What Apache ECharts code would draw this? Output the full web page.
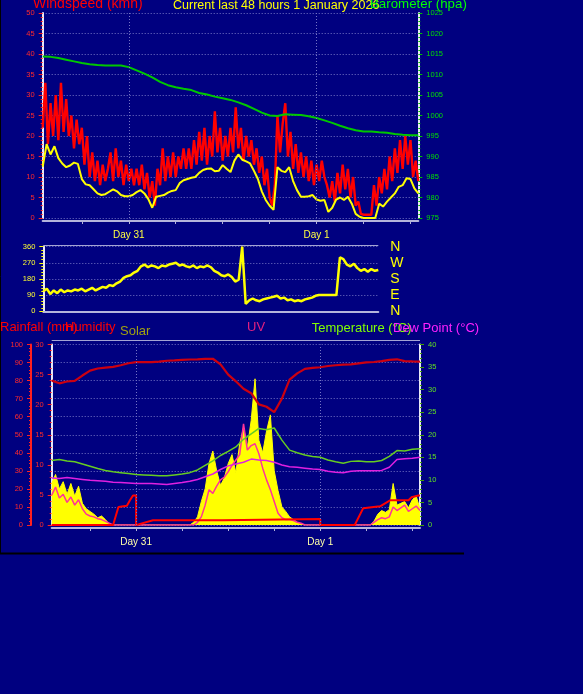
<!DOCTYPE html>
<html><head><meta charset="utf-8">
<script src="https://cdn.jsdelivr.net/npm/echarts@6.0.0/dist/echarts.min.js"></script>
<style>html,body{margin:0;padding:0;background:#000080;}#c{width:583px;height:694px;}</style>
</head><body><div id="c"></div>
<script>
// ---------- time base (hours relative to midnight, 31 Dec) ----------
const START_HOUR = -11;
const END_HOUR = 37;
const dayHours = [0, 24];
const dayLabels = ['Day 31', 'Day 1'];
const tickHours = [-6, 0, 6, 12, 18, 24, 30, 36];
const hours20 = Array.from({length: 145}, (_, i) => START_HOUR + i / 3);
const hours30 = Array.from({length: 97}, (_, i) => START_HOUR + i * 0.5);
const hours60 = Array.from({length: 49}, (_, i) => START_HOUR + i);

// ---------- wind (km/h) ----------
const windGust = [22,33,18,28,20,30,19,33,21,29,20,
  25,17,24,18,22, 13,20,10,16,9, 14,8,13,9,12, 16,9,17,10,14,
  8,13,9,12,8, 12,8,13,7,11, 5,9,3,12,8, 17,9,15,10,16,
  10,15,12,17,12, 17,12,19,13,21, 14,22,13,20,15, 26,16,22,14,20,
  15,22,16,27,17, 22,14,20,15,19, 13,17,11,15,8, 12,5,3,8,25,
  16,23,28,15,21, 12,18,11,16,10, 15,9,14,8,13, 9,14,10,8,5,
  9,4,11,6,13, 7,12,5,10,3, 4,1,0.8,0.8,0.8, 0.8,8,3,10,6,
  12,7,15,9,17, 11,19,12,20,13, 19,10,14,9];
const windAvg = [12.5,18,15.5,17.5,14.6,13.3,12.4,12.8,13.5,13.2,
  9.5,8.2,8,7,6,5.6,5.8,6.4,7,6.5,
  5.6,5.3,5.3,5.6,6.3,6.8,6,4.6,2.5,5.2,
  5.4,5.6,6.2,6.6,6.8,8.5,9.2,9.5,9.8,10,
  11,11.7,12,12.1,11.4,11.5,12.9,12,11.2,14,
  15.5,14.2,13.8,13.3,11.5,9.5,6.5,4.4,3,2,
  12.4,11.5,11.2,12.4,9,6.8,5.2,5.2,5.3,5.6,
  4.5,4.2,4.4,1.5,2.5,4.5,5,4.4,5.2,3.5,
  1,0.3,0,0,0,0,3.5,2.8,4,5,
  6,7.6,8,9.7,9.5,7.2,6];
// ---------- barometer (hPa), hourly ----------
const baro = [1014.4,1014.3,1014.0,1013.6,1013.2,1012.8,1012.5,1012.3,1012.2,1012.2,1012.2,
  1011.8,1011.0,1010.2,1009.3,1008.2,1007.4,1006.9,1006.5,1006.2,1005.5,1005.1,1004.6,
  1004.2,1003.8,1003.2,1002.5,1001.6,1000.7,1000.0,999.9,1000.3,1000.2,1000.1,999.8,
  999.4,998.8,998.2,997.5,996.9,996.4,996.1,996.1,995.9,995.8,995.5,995.3,995.2,995.2];
// ---------- wind direction (deg), half-hourly ----------
const windDir = [110,125,95,115,100,120,105,115,110,120,
  115,125,110,120,130,115,125,135,130,145,
  140,155,165,185,195,200,215,225,250,260,
  245,255,250,240,255,250,260,265,270,255,
  260,250,245,255,240,250,245,255,245,225,
  215,200,195,205,190,165,175,360,40,60,
  70,60,55,65,70,75,80,85,70,75,
  60,65,55,60,55,65,70,75,85,90,
  90,90,90,90,90,300,290,260,250,265,
  240,225,235,220,235,225,230];
const compass = ['N', 'E', 'S', 'W', 'N'];
// ---------- humidity (%), temperature & dew point (°C), hourly ----------
const humidity = [80,78.5,79.5,79.8,82.8,85.5,86.7,87.2,87.6,88.5,89.6,
  90.2,90.3,90.2,90.5,91,91.2,91.5,91.7,91.8,92,92.1,89,83.3,79.6,75.5,73,66.8,65.5,62.5,70,80.5,84,86.5,87,
  87.4,88.1,88.5,88.8,89,89.5,90.1,90.3,90.8,91.5,91.8,90.8,90.6,90.5];
const temperature = [14.3,14.5,14.2,14,13.5,13,12.5,12.1,11.8,11.6,11.4,
  11.2,11.1,11,10.9,10.9,11.1,11.3,11.6,12.2,13.2,14.2,15.4,16.3,17.3,19,20.2,21.4,21.1,21.5,18.8,16.6,16,15.5,15.2,
  15,14.4,14,13.7,14.1,14.2,14,14,14.3,15.2,16.5,16.4,16.8,16.9];
const dewPoint = [10.4,10.3,10.5,10.3,10.1,9.9,9.8,9.7,9.5,9.4,9.3,
  9.2,9.2,9.2,9.1,9,9.2,9.4,9.7,10.1,10.7,11.3,12.3,13.1,13.5,13.9,14.6,14.4,14.3,13.9,13.3,12.9,12.8,12.6,12.4,
  12.3,11.9,11.7,11.6,11.9,12,12,12,12.1,12.8,14.5,14.7,14.8,15];
// ---------- solar (W/m²) and UV index, half-hourly ----------
const solar = [230,280,200,240,170,230,160,215,120,90,75,60,40,50,30,5,
  0,0,0,0,0,0,0,0,0,0,0,0,0,0,0,0,0,0,0,0,0,
  15,45,130,200,340,410,300,220,260,340,390,290,450,540,430,580,810,470,400,520,610,300,190,100,75,45,30,15,5,
  0,0,0,0,0,0,0,0,0,0,0,0,0,0,0,0,0,0,
  20,60,80,70,85,230,110,120,130,95,140,160,90];
const uv = [3.3,4.2,3.0,3.4,2.5,3.1,2.2,2.8,1.8,1.2,1.0,0.9,0.7,0.6,0.4,0.2,
  0,0,0,0,0,0,0,0,0,0,0,0,0,0,0,0,0,0,0,0,0,0,
  0.3,0.9,2.2,3.9,3.5,4.3,5,5.3,5.9,6.6,7.2,7.8,11.2,8.3,8.8,9,7.9,6.3,5,3.9,2.6,1.3,0.8,0.6,0.6,0.5,0.3,0.2,
  0,0,0,0,0,0,0,0,0,0,0,0,0,0,0,0,0,0,
  0.3,0.6,0.8,0.7,0.9,2.0,1.6,1.9,2.2,1.5,1.8,2.1,1.6];
// ---------- rainfall (mm), daily accumulation ----------
const rainHours = [-11,-3,-2.3,-1.2,-0.8,-0.4,0,0,0.3,2.2,11.3,11.3,24,24,28.5,29.6,31.8,33.1,35.5,35.9,36.8,37];
const rainVals  = [0,0,3.0,3.2,4.1,4.9,4.9,0,0.1,0.8,0.8,1.0,1.0,0,0,2.8,3.1,4.1,4.1,4.6,4.9,4.9];

// ---------- chart ----------
const F = '"Liberation Sans", Arial, sans-serif';
const GRIDC = '#7676c6';
const dotted = {color: GRIDC, type: [1, 2], width: 1};
const AXISC = '#b4b4dc';
const pairs = (t, v) => v.map((y, i) => [t[i], y]);
const vgrid = {silent: true, symbol: ['none', 'none'], label: {show: false},
  lineStyle: dotted, data: dayHours.map(h => ({xAxis: h}))};

function timeAxis(gi, showLabels, labelColor, offset) {
  return {type: 'value', gridIndex: gi, min: START_HOUR, max: END_HOUR, offset: offset,
    axisLine: {show: true, onZero: false, lineStyle: {color: AXISC, width: 2}},
    axisTick: {show: showLabels, customValues: tickHours, length: 3, lineStyle: {color: AXISC}},
    axisLabel: {show: showLabels, customValues: dayHours, color: labelColor, fontSize: 10, fontFamily: F, margin: 9,
      formatter: v => dayLabels[dayHours.indexOf(v)]},
    splitLine: {show: false}};
}
function valAxis(gi, min, max, interval, pos, tickColor, labelColor, opts) {
  return Object.assign({type: 'value', gridIndex: gi, min: min, max: max, interval: interval, position: pos,
    axisLine: {show: true, onZero: false, lineStyle: {color: '#e8e8f4', width: 2}},
    axisTick: {show: true, length: 4, lineStyle: {color: tickColor}},
    minorTick: {show: true, splitNumber: 5, length: 2, lineStyle: {color: tickColor}},
    axisLabel: {color: labelColor, fontSize: 7.5, fontFamily: F, margin: 8, formatter: v => String(v)},
    splitLine: {show: false}}, opts || {});
}
function txt(text, x, y, color, size) {
  return {type: 'text', x: x, y: y, silent: true,
    style: {text: text, fill: color, font: size + 'px ' + F, textAlign: 'left', textVerticalAlign: 'middle'}};
}
function hline(x1, x2, y, color, w) {
  return {type: 'line', silent: true, shape: {x1: x1, y1: y, x2: x2, y2: y}, style: {stroke: color, lineWidth: w}};
}

const chart = echarts.init(document.getElementById('c'), null, {width: 583, height: 694});
const line = (o) => Object.assign({type: 'line', symbol: 'none', showSymbol: false, animation: false}, o);

chart.setOption({
  backgroundColor: '#000080',
  animation: false,
  textStyle: {fontFamily: F},
  grid: [
    {left: 42.7, top: 13, width: 375.6, height: 205, outerBoundsMode: 'none'},
    {left: 43.3, top: 246.7, width: 335, height: 64.3, outerBoundsMode: 'none'},
    {left: 51.7, top: 344.5, width: 368.3, height: 180.5, outerBoundsMode: 'none'}
  ],
  xAxis: [
    timeAxis(0, true, '#ffff40', 3),
    timeAxis(1, false, '#ffff40', 1),
    timeAxis(2, true, '#ffffa8', 3)
  ],
  yAxis: [
    valAxis(0, 0, 50, 5, 'left', '#ff2020', '#ff2a2a', {splitLine: {show: true, lineStyle: dotted}}),
    valAxis(0, 975, 1025, 5, 'right', '#00c000', '#00e000'),
    valAxis(1, 0, 360, 90, 'left', '#ffff00', '#ffff30', {splitLine: {show: true, lineStyle: dotted}}),
    {type: 'value', gridIndex: 1, min: 0, max: 360, interval: 90, position: 'right',
      axisLine: {show: false}, axisTick: {show: false}, splitLine: {show: false},
      axisLabel: {color: '#ffff00', fontSize: 14, fontFamily: F, margin: 12, formatter: v => compass[v / 90]}},
    valAxis(2, 0, 100, 10, 'left', '#ff2020', '#ff2a2a', {offset: 20.7,
      axisLine: {show: true, onZero: false, lineStyle: {color: '#ff2020', width: 2}},
      splitLine: {show: true, lineStyle: dotted}}),
    valAxis(2, 0, 30, 5, 'left', '#ff2020', '#ff2a2a'),
    valAxis(2, 0, 40, 5, 'right', '#40a000', '#60e020'),
    {type: 'value', gridIndex: 2, min: 0, max: 1000, show: false, splitLine: {show: false}},
    {type: 'value', gridIndex: 2, min: 0, max: 20, show: false, splitLine: {show: false}}
  ],
  series: [
    line({name: 'Gust', xAxisIndex: 0, yAxisIndex: 0, data: pairs(hours20, windGust),
      lineStyle: {color: '#ff0000', width: 2.4}, markLine: vgrid}),
    line({name: 'Wind Speed', xAxisIndex: 0, yAxisIndex: 0, data: pairs(hours30, windAvg),
      lineStyle: {color: '#ffff00', width: 2}}),
    line({name: 'Barometer', xAxisIndex: 0, yAxisIndex: 1, data: pairs(hours60, baro),
      lineStyle: {color: '#00c800', width: 2}}),
    line({name: 'Direction', xAxisIndex: 1, yAxisIndex: 2, data: pairs(hours30, windDir),
      lineStyle: {color: '#ffff00', width: 2.5}}),
    line({name: 'Solar', xAxisIndex: 2, yAxisIndex: 7, data: pairs(hours30, solar),
      lineStyle: {color: '#ffff00', width: 1}, areaStyle: {color: '#ffff00', opacity: 1}, markLine: vgrid}),
    line({name: 'UV', xAxisIndex: 2, yAxisIndex: 8, data: pairs(hours30, uv),
      lineStyle: {color: '#ff3399', width: 1.5}}),
    line({name: 'Humidity', xAxisIndex: 2, yAxisIndex: 4, data: pairs(hours60, humidity),
      lineStyle: {color: '#cc0010', width: 2.2}}),
    line({name: 'Temperature', xAxisIndex: 2, yAxisIndex: 6, data: pairs(hours60, temperature),
      lineStyle: {color: '#66cc22', width: 1.5}}),
    line({name: 'Dew Point', xAxisIndex: 2, yAxisIndex: 6, data: pairs(hours60, dewPoint),
      lineStyle: {color: '#e020e0', width: 1.5}}),
    line({name: 'Rainfall', xAxisIndex: 2, yAxisIndex: 5, data: pairs(rainHours, rainVals),
      lineStyle: {color: '#ff0000', width: 2}})
  ],
  graphic: [
    hline(43.3, 378.3, 245.5, '#a4a4d4', 1),
    hline(51.7, 420, 340.5, '#a4a4d4', 1),
    hline(0, 464, 553.5, '#000000', 2),
    {type: 'line', silent: true, shape: {x1: 0.5, y1: 0, x2: 0.5, y2: 553}, style: {stroke: '#000000', lineWidth: 1}},
    txt('Windspeed (kmh)', 33, 4.6, '#ff0000', 14),
    txt('Current last 48 hours 1 January 2026', 173, 5.1, '#ffff00', 12.5),
    txt('Barometer (hpa)', 370, 4.8, '#00ff00', 13.3),
    txt('Rainfall (mm)', 0, 327, '#ff0000', 13),
    txt('Humidity', 65, 327, '#ff0000', 13),
    txt('Solar', 120, 331.8, '#a0a010', 13),
    txt('UV', 247, 327.2, '#e0207f', 13),
    txt('Temperature (°C)', 311.7, 328.5, '#80ff00', 13),
    txt('Dew Point (°C)', 393, 328.5, '#ff20ff', 13)
  ]
});
</script></body></html>
